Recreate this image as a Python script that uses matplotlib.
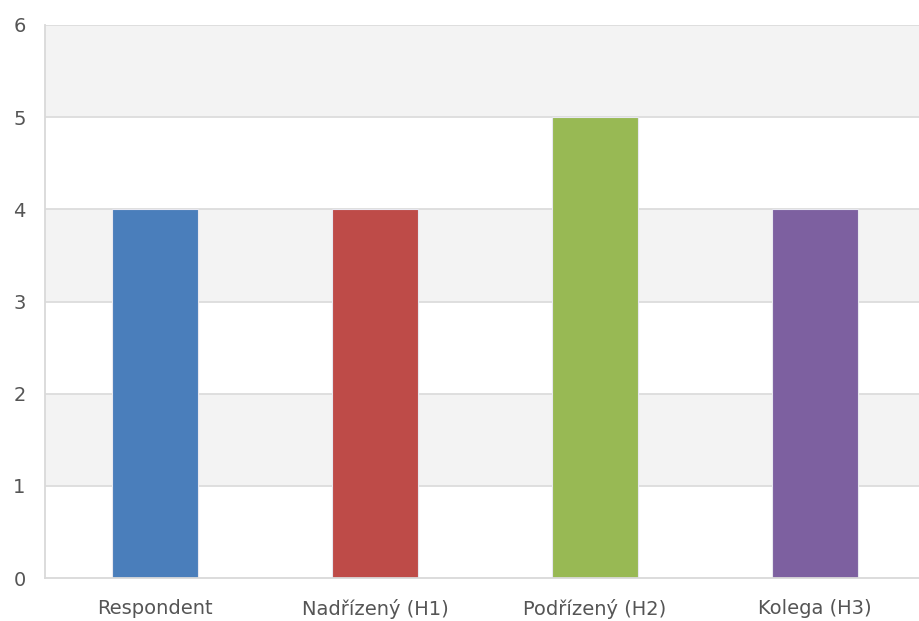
import numpy as np
import matplotlib
matplotlib.use("Agg")
import matplotlib.pyplot as plt

categories = ["Respondent", "Nadřízený (H1)", "Podřízený (H2)", "Kolega (H3)"]
values = [4, 4, 5, 4]
bar_colors = ["#4A7EBB", "#BE4B48", "#98B954", "#7D60A0"]
y_ticks = [0, 1, 2, 3, 4, 5, 6]

fig = plt.figure(figsize=(9.19, 6.21), dpi=100)
ax = fig.add_axes([45 / 919, 1 - 578 / 621, 880 / 919, 553 / 621])

# alternating shaded bands between gridlines
for lo in y_ticks[1:-1:2]:
    ax.axhspan(lo, lo + 1, color="#F3F3F3", zorder=0, lw=0)
ax.axhspan(5, 6, color="#F3F3F3", zorder=0, lw=0)

for y in y_ticks[1:]:
    ax.axhline(y, color="#DCDCDC", lw=1.3, zorder=1)

x = np.arange(len(categories))
ax.bar(x, values, width=0.395, color=bar_colors, edgecolor="#E8E8F0",
       linewidth=0.8, zorder=2)

ax.set_xlim(-0.5, 3.5)
ax.set_ylim(0, 6)
ax.set_yticks(y_ticks)
ax.set_xticks(x)
ax.set_xticklabels(categories)
ax.tick_params(length=0, labelsize=14, colors="#555555")
ax.tick_params(axis="x", pad=15)
ax.tick_params(axis="y", pad=14)

for side in ["top", "right"]:
    ax.spines[side].set_visible(False)
for side in ["left", "bottom"]:
    ax.spines[side].set_color("#D9D9D9")
    ax.spines[side].set_linewidth(1.3)

fig.savefig("out.png", dpi=100)
